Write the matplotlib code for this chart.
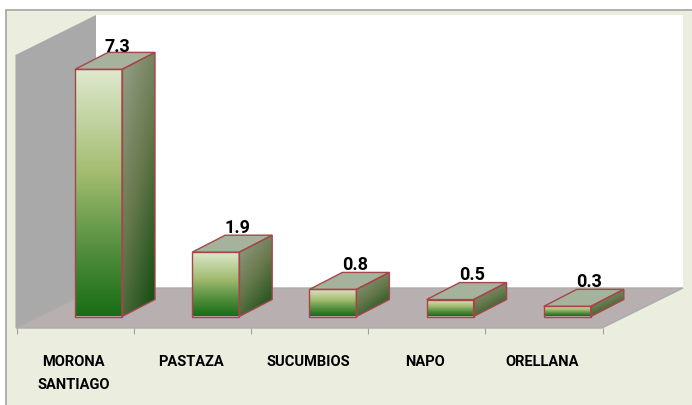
#!/usr/bin/env python3
"""Pseudo-3D column chart with gradient bars, drawn on a pixel-sized axes."""

import matplotlib
matplotlib.use("Agg")
import matplotlib.pyplot as plt
import matplotlib.patches as patches
from matplotlib.colors import LinearSegmentedColormap
import numpy as np

categories = ["MORONA\nSANTIAGO", "PASTAZA", "SUCUMBIOS", "NAPO", "ORELLANA"]
values = [7.3, 1.9, 0.8, 0.5, 0.3]
value_labels = ["7.3", "1.9", "0.8", "0.5", "0.3"]

W, H = 692, 405
BG = "#EBEEDF"
EDGE = "#A5474A"
FONT = ["Roboto", "DejaVu Sans"]

# scene geometry, in pixels
FLOOR_X0, SLOT = 16.5, 117.2
BAR_W, BASE_Y = 47, 316.5
DX, DY = 33, 17
PX_PER_UNIT = 33.85

front_cmap = LinearSegmentedColormap.from_list(
    "front", [(0, "#DFE9D0"), (0.42, "#A3BC70"), (0.75, "#4F8C3C"), (1, "#186E14")])
side_cmap = LinearSegmentedColormap.from_list(
    "side", [(0, "#98A18A"), (0.5, "#66784C"), (1, "#0D4A0D")])


def gradient_poly(ax, pts, cmap, diagonal=False):
    poly = patches.Polygon(pts, closed=True, facecolor="none", edgecolor="none")
    ax.add_patch(poly)
    xs, ys = zip(*pts)
    ramp = np.linspace(0, 1, 128)
    if diagonal:
        grad = (ramp[None, :] * 0.35 + ramp[:, None] * 0.65)
    else:
        grad = ramp[:, None]
    im = ax.imshow(grad, cmap=cmap, vmin=0, vmax=1, aspect="auto", zorder=3,
                   extent=(min(xs), max(xs), max(ys), min(ys)))
    im.set_clip_path(poly)


def draw_bar(ax, i, value, label):
    left = FLOOR_X0 + SLOT * i + 58.5
    right = left + BAR_W
    top = BASE_Y - value * PX_PER_UNIT

    front = [(left, top), (right, top), (right, BASE_Y), (left, BASE_Y)]
    side = [(right, top), (right + DX, top - DY), (right + DX, BASE_Y - DY), (right, BASE_Y)]
    lid = [(left, top), (left + DX, top - DY), (right + DX, top - DY), (right, top)]

    gradient_poly(ax, front, front_cmap)
    gradient_poly(ax, side, side_cmap, diagonal=True)
    ax.add_patch(patches.Polygon(lid, closed=True, facecolor="#A5B39C", edgecolor="none", zorder=3))
    for pts in (front, side, lid):
        ax.add_patch(patches.Polygon(pts, closed=True, fill=False, edgecolor=EDGE,
                                     linewidth=1.0, zorder=4))

    # the tallest label sits tighter against the bar than the others
    lx = right - 5 if value > 5 else right - 1.5
    ly = top - DY - 5 if value > 5 else top - DY - 7.5
    ax.text(lx, ly, label, ha="center", va="center", fontsize=13,
            fontweight="bold", family=FONT, color="black", zorder=5)


def main():
    fig = plt.figure(figsize=(W / 100, H / 100), dpi=100, facecolor="white")
    ax = fig.add_axes([0, 0, 1, 1])
    ax.set_xlim(0, W)
    ax.set_ylim(H, 0)
    ax.axis("off")

    # chart area; only its top and left border fall inside the picture
    ax.add_patch(patches.Rectangle((6, 9.5), W, H, facecolor=BG,
                                   edgecolor="#A3A69C", linewidth=1.2, zorder=0))

    # back wall, left wall, floor
    ax.add_patch(patches.Rectangle((96, 15), 587, 273, facecolor="white", edgecolor="none", zorder=1))
    ax.add_patch(patches.Polygon([(15.5, 55), (96, 15), (96, 288), (15.5, 328)], closed=True,
                                 facecolor="#A9A9A9", edgecolor="none", zorder=1))
    ax.add_patch(patches.Polygon([(16, 328), (96, 288), (683, 288), (602, 328)], closed=True,
                                 facecolor="#B8AFB0", edgecolor="#ABADA8", linewidth=1.0, zorder=1))

    # category ticks under the floor
    tick_xs = FLOOR_X0 + SLOT * np.arange(len(categories) + 1)
    ax.vlines(tick_xs, 328, 334, color="#A0A0A0", linewidth=0.8, zorder=2)

    for i, (value, label) in enumerate(zip(values, value_labels)):
        draw_bar(ax, i, value, label)

    for i, name in enumerate(categories):
        ax.text(FLOOR_X0 + SLOT * i + 57, 354.5, name, ha="center", va="top", fontsize=10.5,
                fontweight="bold", family=FONT, color="black", linespacing=1.85, zorder=5)

    ax.set_xlim(0, W)
    ax.set_ylim(H, 0)
    fig.savefig("out.png", dpi=100)
    plt.close(fig)


if __name__ == "__main__":
    main()
